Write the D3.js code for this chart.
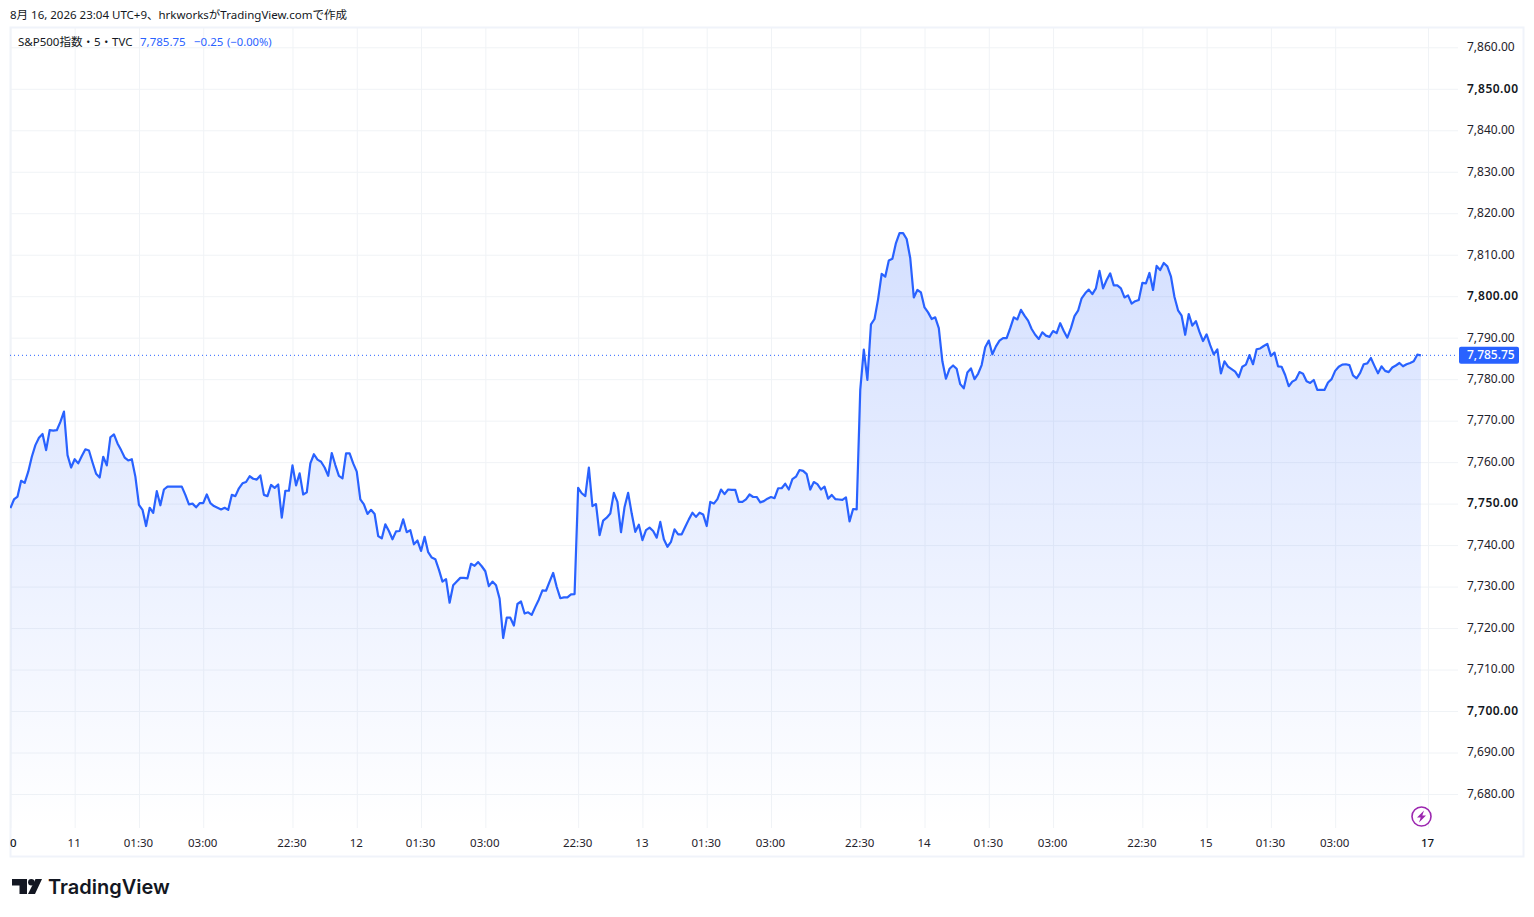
<!DOCTYPE html>
<html>
<head>
<meta charset="utf-8">
<script src="https://cdn.jsdelivr.net/npm/d3@7"></script>
<style>
    html, body { margin: 0; padding: 0; background: #fff; overflow: hidden; }
    svg { display: block; }
    text { font-family: "Noto Sans", "Noto Sans CJK JP", sans-serif; font-size: 11.5px; fill: #131722; }
    .grid line { stroke: #f0f3f6; stroke-width: 1; }
    .grid path, .axis path, .axis line { display: none; }
    .axis text { fill: #1f222b; }
    .price text { font-size: 12px; }
    .price .major text { font-weight: 600; letter-spacing: 0.45px; fill: #131722; }
    .time .major text { font-weight: 500; fill: #131722; }
</style>
</head>
<body>
<div id="chart"></div>
<script>
// S&P500 5 minute closes, one array per session
const session1 = [7748.9,7751.0,7751.7,7755.5,7755.0,7757.7,7761.3,7764.1,7765.9,7766.8,7762.9,7767.7,7767.6,7767.7,7769.7,7772.2,7761.7,7758.7,7760.7,7759.7,7761.5,7763.1,7762.8,7759.9,7757.2,7756.3,7761.3,7759.2,7766.0,7766.7,7764.5,7762.9,7761.1,7760.4,7760.7,7756.5,7749.7,7748.5,7744.6,7749.0,7747.8,7753.0,7749.6,7753.4,7754.1,7754.1,7754.1,7754.1,7754.1,7752.1,7749.8,7750.0,7749.1,7750.1,7750.1,7752.2,7750.1,7749.4,7749.0,7748.6,7749.0,7748.5,7752.1,7751.8,7753.7,7754.9,7755.2,7756.6,7756.0,7755.8,7756.8,7752.1,7751.8,7754.5,7753.8,7754.6,7746.6,7753.1,7753.1];
const session2 = [7759.2,7754.4,7757.3,7752.2,7752.7,7759.7,7761.9,7760.6,7760.1,7758.7,7756.7,7762.2,7759.3,7756.7,7756.1,7762.1,7762.1,7759.7,7757.7,7751.0,7749.8,7747.5,7748.5,7747.5,7742.2,7741.6,7745.0,7743.4,7741.4,7743.3,7743.4,7746.2,7743.1,7743.6,7740.2,7741.1,7738.6,7742.0,7738.3,7737.0,7736.6,7734.1,7731.2,7731.8,7726.1,7730.3,7731.2,7732.1,7732.1,7732.0,7735.5,7735.0,7735.9,7734.9,7733.7,7730.1,7731.2,7730.3,7727.1,7717.6,7722.5,7722.5,7720.6,7725.8,7726.4,7723.5,7723.8,7723.2,7725.1,7726.9,7729.1,7729.0,7731.2,7733.3,7729.9,7727.2,7727.4,7727.4,7728.1,7728.2];
const session3 = [7753.8,7752.5,7751.8,7758.7,7749.4,7749.9,7742.4,7745.9,7746.6,7747.6,7752.6,7750.4,7743.1,7749.2,7752.6,7747.6,7743.2,7744.9,7741.2,7743.6,7744.2,7743.4,7741.8,7745.6,7741.4,7739.6,7740.8,7743.8,7742.6,7742.6,7744.4,7746.2,7747.8,7746.8,7747.8,7747.4,7744.6,7750.4,7750.0,7751.1,7753.4,7752.3,7753.4,7753.3,7753.3,7750.4,7750.4,7751.0,7752.2,7751.6,7751.6,7750.3,7750.6,7751.2,7751.6,7751.3,7753.7,7753.7,7754.8,7753.4,7755.9,7756.5,7758.1,7757.9,7757.1,7753.4,7755.2,7754.7,7753.4,7754.1,7751.2,7752.1,7751.1,7751.0,7750.9,7751.5,7745.7,7748.7,7748.6];
const session4 = [7777.4,7787.1,7779.8,7793.2,7794.5,7799.3,7805.4,7804.7,7808.6,7809.0,7812.8,7815.2,7815.2,7813.8,7809.2,7799.7,7801.5,7800.9,7797.3,7796.1,7794.5,7794.9,7792.3,7784.3,7780.1,7782.5,7783.3,7782.5,7778.8,7777.8,7781.6,7782.6,7780.0,7781.3,7783.4,7787.7,7789.3,7786.0,7787.9,7789.3,7789.9,7789.9,7792.3,7794.9,7794.4,7796.7,7795.3,7794.1,7792.1,7790.7,7789.7,7791.3,7790.5,7790.2,7791.6,7791.1,7793.5,7791.6,7790.0,7792.3,7795.2,7796.5,7799.5,7800.7,7801.6,7800.5,7801.9,7806.1,7801.9,7803.9,7805.5,7802.6,7802.6,7801.9,7799.7,7800.2,7798.2,7798.8,7799.1];
const session5 = [7803.2,7803.1,7805.6,7801.5,7807.3,7806.3,7808.0,7807.2,7804.8,7799.8,7796.6,7795.3,7790.7,7795.7,7792.9,7794.0,7791.4,7789.2,7790.8,7788.2,7786.0,7787.2,7781.4,7784.3,7783.0,7782.4,7781.8,7780.5,7783.0,7783.5,7785.8,7783.6,7787.2,7787.4,7788.0,7788.5,7785.6,7786.4,7783.1,7783.0,7781.0,7778.3,7779.4,7779.9,7781.7,7781.3,7779.5,7779.1,7779.8,7777.4,7777.4,7777.4,7779.2,7780.0,7782.0,7783.0,7783.5,7783.6,7783.4,7780.9,7780.2,7781.5,7783.6,7783.8,7785.1,7783.2,7781.4,7783.1,7782.0,7781.7,7782.8,7783.3,7783.9,7783.1,7783.6,7783.9,7784.3,7785.9,7785.75];

// axis ticks, positions are bar numbers
const timeTicks = [0,18,36,54,79,97,115,133,159,177,195,213,238,256,274,292,317,335,353,371,397];
const timeLabels = ["10","11","01:30","03:00","22:30","12","01:30","03:00","22:30","13","01:30","03:00","22:30","14","01:30","03:00","22:30","15","01:30","03:00","17"];
const boldLabels = ["10","17"];
const priceTicks = [7680,7690,7700,7710,7720,7730,7740,7750,7760,7770,7780,7790,7800,7810,7820,7830,7840,7850,7860];
const majorPrices = [7700,7750,7800,7850];
const lastPrice = 7785.75;

const closes = session1.concat(session2, session3, session4, session5);

const width = 1534;
const height = 917;
const pane = { left: 10, right: 1458, top: 28, bottom: 828 };
const blue = "#2962ff";

const svg = d3.select("#chart")
    .append("svg")
    .attr("width", width)
    .attr("height", height);

// scales
const xScale = d3.scaleLinear().domain([0, 397]).range([10.4, 1428]);
const yScale = d3.scaleLinear().domain([7680, 7860]).range([794, 47.3]);

const defs = svg.append("defs");

const fade = defs.append("linearGradient")
    .attr("id", "fade")
    .attr("gradientUnits", "userSpaceOnUse")
    .attr("x1", 0).attr("x2", 0)
    .attr("y1", yScale(d3.max(closes)))
    .attr("y2", pane.bottom);
fade.append("stop").attr("offset", 0).attr("stop-color", blue).attr("stop-opacity", 0.2);
fade.append("stop").attr("offset", 1).attr("stop-color", blue).attr("stop-opacity", 0);

defs.append("clipPath").attr("id", "paneClip")
    .append("rect")
    .attr("x", pane.left)
    .attr("y", pane.top)
    .attr("width", width - pane.left)
    .attr("height", 830);

defs.append("clipPath").attr("id", "axisClip")
    .append("rect")
    .attr("x", pane.left)
    .attr("y", -5)
    .attr("width", 1500)
    .attr("height", 40);

// frame
svg.append("rect")
    .attr("x", 10.5).attr("y", 27.5)
    .attr("width", 1513).attr("height", 829)
    .attr("fill", "none")
    .attr("stroke", "#f0f3fa")
    .attr("stroke-width", 2);

// grid
svg.append("g")
    .attr("class", "grid")
    .attr("transform", `translate(0,${pane.bottom})`)
    .call(d3.axisBottom(xScale).tickValues(timeTicks).tickSize(-(pane.bottom - pane.top)).tickFormat(""));

svg.append("g")
    .attr("class", "grid")
    .attr("transform", `translate(${pane.right},0)`)
    .call(d3.axisLeft(yScale).tickValues(priceTicks).tickSize(pane.right - pane.left).tickFormat(""));

// area and line
const area = d3.area()
    .x((d, i) => xScale(i))
    .y0(pane.bottom)
    .y1(d => yScale(d));

const line = d3.line()
    .x((d, i) => xScale(i))
    .y(d => yScale(d));

svg.append("path")
    .datum(closes)
    .attr("d", area)
    .attr("fill", "url(#fade)")
    .attr("clip-path", "url(#paneClip)");

// last price line
svg.append("line")
    .attr("x1", pane.left)
    .attr("x2", pane.right)
    .attr("y1", yScale(lastPrice))
    .attr("y2", yScale(lastPrice))
    .attr("stroke", blue)
    .attr("stroke-width", 1)
    .attr("stroke-dasharray", "1 3");

svg.append("path")
    .datum(closes)
    .attr("d", line)
    .attr("fill", "none")
    .attr("stroke", blue)
    .attr("stroke-width", 2.2)
    .attr("stroke-linejoin", "round")
    .attr("clip-path", "url(#paneClip)");

// price axis
const yAxis = svg.append("g")
    .attr("class", "axis price")
    .attr("transform", "translate(1467,-0.5)")
    .call(d3.axisRight(yScale).tickValues(priceTicks).tickSize(0).tickPadding(0).tickFormat(d3.format(",.2f")));

yAxis.selectAll(".tick").classed("major", d => majorPrices.includes(d));

// time axis
const xAxis = svg.append("g")
    .attr("class", "axis time")
    .attr("transform", "translate(0,832)")
    .attr("clip-path", "url(#axisClip)")
    .call(d3.axisBottom(xScale).tickValues(timeTicks).tickSize(0).tickPadding(7).tickFormat((d, i) => timeLabels[i]));

xAxis.selectAll(".tick text").attr("x", -1);
xAxis.selectAll(".tick").classed("major", (d, i) => boldLabels.includes(timeLabels[i]));

// last price tag
svg.append("rect")
    .attr("x", 1459).attr("y", yScale(lastPrice) - 8.5)
    .attr("width", 60).attr("height", 17)
    .attr("rx", 2)
    .attr("fill", blue);

svg.append("text")
    .attr("x", 1467)
    .attr("y", yScale(lastPrice) + 4)
    .attr("font-weight", 500)
    .style("font-size", "12px")
    .style("fill", "#fff")
    .text(d3.format(",.2f")(lastPrice));

// header and legend
svg.append("text").attr("x", 10).attr("y", 19)
    .text("8月 16, 2026 23:04 UTC+9、hrkworksがTradingView.comで作成");
svg.append("text").attr("x", 18).attr("y", 46)
    .text("S&P500指数・5・TVC");
svg.append("text").attr("x", 140).attr("y", 46).style("fill", blue).text("7,785.75");
svg.append("text").attr("x", 194).attr("y", 46).style("fill", blue).text("−0.25");
svg.append("text").attr("x", 227).attr("y", 46).style("fill", blue).style("font-size", "11.2px").text("(−0.00%)");

// lightning icon
const bolt = svg.append("g").attr("transform", "translate(1421.5,816.5)");
bolt.append("circle").attr("r", 9.5).attr("fill", "#fff").attr("stroke", "#9c27b0").attr("stroke-width", 1.6);
bolt.append("path").attr("d", "M2.5,-6 L-4.5,1 L-0.8,1 L-2.5,6 L4.5,-1 L0.8,-1 Z").attr("fill", "#9c27b0");

// logo
const logo = svg.append("g").attr("transform", "translate(12,879)");
logo.append("path").attr("d", "M0,0 H15 V15 H7.5 V6.5 H0 Z").attr("fill", "#131722");
logo.append("circle").attr("cx", 19.3).attr("cy", 3.2).attr("r", 3.2).attr("fill", "#131722");
logo.append("path").attr("d", "M23.5,0 H30 L23,15 H16 Z").attr("fill", "#131722");
svg.append("text")
    .attr("x", 48).attr("y", 894)
    .attr("font-weight", 600)
    .style("font-size", "20px")
    .style("font-family", "Inter, 'Noto Sans', sans-serif")
    .text("TradingView");
</script>
</body>
</html>
